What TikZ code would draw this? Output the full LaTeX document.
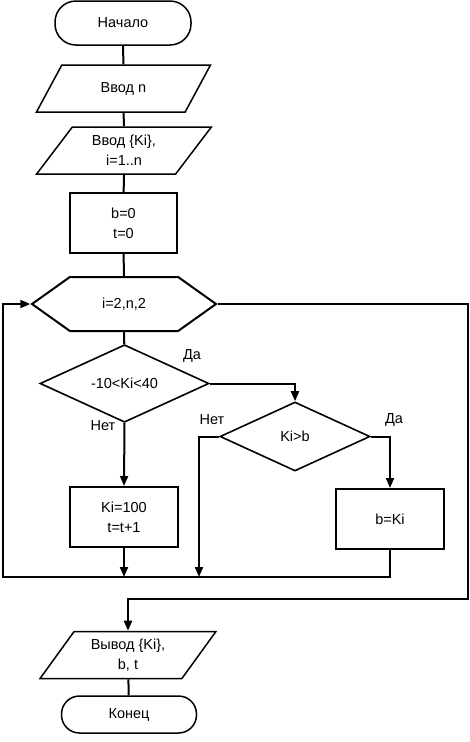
\documentclass[tikz,border=0pt]{standalone}
\usepackage{fontspec}
\setmainfont{Liberation Sans}
\usetikzlibrary{shapes.geometric,shapes.symbols,arrows.meta}

\begin{document}
\begin{tikzpicture}[
	x=1pt, y=-1pt
	,every node/.append style={font=\fontsize{14.5}{20}\selectfont, align=center, inner sep=0pt}
	,term/.style={draw, line width=1.5pt, rounded corners=21pt, minimum width=136pt, minimum height=44pt}
	,io/.style={draw, line width=1.5pt, trapezium, trapezium stretches=true, trapezium left angle=54, trapezium right angle=126, minimum width=175pt, minimum height=47pt}
	,proc/.style={draw, line width=2pt, rectangle, minimum width=107pt, minimum height=60pt}
	,cond/.style={draw, line width=1.6pt, diamond, minimum height=69pt}
	,loopbox/.style={draw, line width=2pt, signal, signal to=east and west, signal pointer angle=71, minimum width=184pt, minimum height=54pt}
	,line/.style={line width=2pt}
	,arr/.style={line width=2pt, -{Triangle[length=10pt, width=8pt]}}
]
	\useasboundingbox (0,0) rectangle (470,742);

	\node [term] (start) at (123,23) {Начало};
	\node [io] (inn) at (123.5,88.5) {Ввод n};
	\node [io] (inK) at (124,150.5) {Ввод \{Ki\},\\i=1..n};
	\node [proc] (init) at (123.5,223) {b=0\\t=0};
	\node [loopbox] (loop) at (124,304) {i=2,n,2};
	\node [cond, minimum width=169pt] (c1) at (124.5,383.5) {-10<Ki<40};
	\node [cond, minimum width=150pt] (c2) at (295,436.5) {Ki>b};
	\node [proc, minimum width=108pt] (setK) at (124,517) {Ki=100\\t=t+1};
	\node [proc, minimum width=108pt] (setb) at (390,519) {b=Ki};
	\node [io, minimum width=176pt] (out) at (128,655) {Вывод \{Ki\},\\b, t};
	\node [term, rounded corners=18pt, minimum width=135pt, minimum height=37pt] (stop) at (129,714.5) {Конец};

	\coordinate (j1) at (124,577);
	\coordinate (j2) at (199,577);
	\coordinate (lb) at (3,577);
	\coordinate (rb) at (468,599);

	\draw [line] (start) -- (inn);
	\draw [line] (inn) -- (inK);
	\draw [line] (inK) -- (init);
	\draw [line] (init) -- (loop);
	\draw [line] (loop) -- (c1);
	\draw [arr] (c1.east) -| (c2.north);
	\draw [arr] (c1.south) -- (setK.north);
	\draw [arr] (c2.west) -| (j2);
	\draw [arr] (c2.east) -| (setb.north);
	\draw [arr] (setK.south) -- (j1);
	\draw [arr] (setb.south) |- (lb) |- (loop.west);
	\draw [arr] (loop.east) -| (rb) -| (out.north);
	\draw [line] (out) -- (stop);

	\node (yes1) at (192,356) {Да};
	\node (no1) at (103,426) {Нет};
	\node (no2) at (212,420) {Нет};
	\node (yes2) at (394,420) {Да};
\end{tikzpicture}
\end{document}
